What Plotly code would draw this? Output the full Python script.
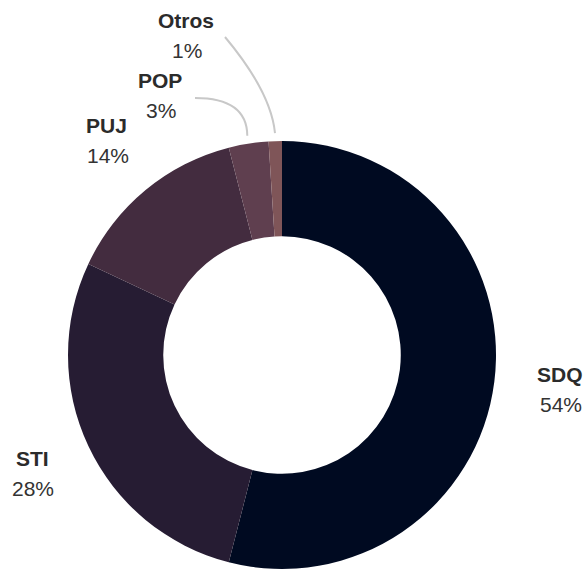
import math
import plotly.graph_objects as go

labels = ["SDQ", "STI", "PUJ", "POP", "Otros"]
values = [54, 28, 14, 3, 1]
colors = ["#000a21", "#261c33", "#432c3f", "#5f3f4f", "#7f5558"]

W, H = 587, 569
CX, CY, R = 282, 355, 214
HOLE = 0.555
LABEL_R = 278
# pixel offsets for crowded labels (moved away with leader lines)
label_override = {"POP": (160, 95), "Otros": (186, 35)}
leader_start = {"POP": (195, 98), "Otros": (225, 37)}
leader_ctrl = {"POP": (247, 98), "Otros": (271, 92)}

fig = go.Figure()
fig.add_trace(go.Pie(
    labels=labels, values=values, sort=False, direction="clockwise", rotation=0,
    hole=HOLE, marker=dict(colors=colors, line=dict(width=0)),
    textinfo="none", hoverinfo="label+percent", showlegend=False,
    domain=dict(x=[(CX - R) / W, (CX + R) / W], y=[0, 2 * R / H]),
))
fig.add_trace(go.Scatter(x=[None], y=[None], showlegend=False, hoverinfo="skip"))

total = sum(values)
cum = 0
annotations = []
shapes = []
for lab, v in zip(labels, values):
    mid = (cum + v / 2) / total * 2 * math.pi
    cum += v
    pct = round(v / total * 100)
    if lab in label_override:
        lx, ly = label_override[lab]
        ex = CX + math.sin(mid) * (R + 8)
        ey = CY - math.cos(mid) * (R + 8)
        sx, sy = leader_start[lab]
        qx, qy = leader_ctrl[lab]
        shapes.append(dict(type="path", xref="x", yref="y",
                           path=f"M {sx} {sy} Q {qx} {qy} {ex:.1f} {ey:.1f}",
                           line=dict(color="#c8c8c8", width=2)))
    else:
        lx = CX + math.sin(mid) * LABEL_R + 2
        ly = CY - math.cos(mid) * LABEL_R
    annotations.append(dict(x=lx, y=ly - 15, xref="x", yref="y", text=f"<b>{lab}</b>",
                            showarrow=False, font=dict(size=21, color="#2b2b2b")))
    annotations.append(dict(x=lx + 1, y=ly + 15, xref="x", yref="y", text=f"{pct}%",
                            showarrow=False, font=dict(size=21, color="#333333")))

fig.update_layout(
    width=W, height=H, margin=dict(l=0, r=0, t=0, b=0),
    paper_bgcolor="white", plot_bgcolor="rgba(0,0,0,0)",
    font=dict(family="Liberation Sans, Arial, sans-serif"),
    xaxis=dict(range=[0, W], visible=False, fixedrange=True),
    yaxis=dict(range=[H, 0], visible=False, fixedrange=True),
    annotations=annotations, shapes=shapes,
)
fig.write_html("out.html", config={"displayModeBar": False},
               post_script="document.body.style.margin='0';document.body.style.overflow='hidden';")
